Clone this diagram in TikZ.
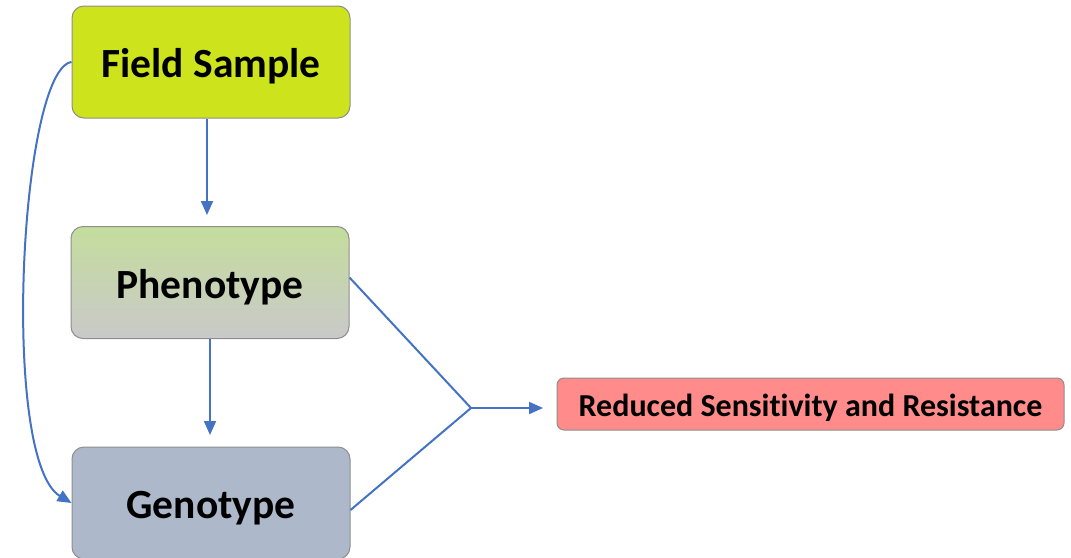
\documentclass[tikz,border=0pt]{standalone}
\usepackage{fontspec}
\setmainfont{Carlito}[Ligatures=NoCommon]
\usetikzlibrary{arrows.meta}
\definecolor{lineblue}{HTML}{4472C4}
\definecolor{fieldfill}{HTML}{CDE41C}
\definecolor{phenotop}{HTML}{C4DD9C}
\definecolor{phenobot}{HTML}{C9C9C9}
\definecolor{genofill}{HTML}{ADB9CA}
\definecolor{resfill}{HTML}{FF8B8B}
\definecolor{boxedge}{HTML}{8E8E8E}
\tikzset{
  stage/.style={draw=boxedge, line width=1pt, rounded corners=12pt,
    minimum width=278pt, minimum height=112pt, inner sep=0pt,
    text height=31pt, text depth=0pt,
    font=\fontsize{41.5}{48}\selectfont\bfseries},
  outcome/.style={draw=boxedge, line width=1pt, rounded corners=7pt, fill=resfill,
    minimum width=507pt, minimum height=52pt, inner sep=0pt,
    text height=24pt, text depth=0pt,
    font=\fontsize{32}{38}\selectfont\bfseries},
  link/.style={draw=lineblue, line width=2pt},
  flow/.style={link, -{Triangle[length=14pt, width=12pt]}}
}
\begin{document}
\begin{tikzpicture}[x=1pt, y=-1pt]
  \useasboundingbox (0,0) rectangle (1071,557);
  % the three stages
  \node[stage, fill=fieldfill] (field) at (211,62) {Field Sample};
  \node[stage, top color=phenotop, bottom color=phenobot, draw=boxedge] (pheno) at (210,282.5) {Phenotype};
  \node[stage, fill=genofill] (geno) at (211,503) {Genotype};
  % outcome
  \node[outcome] (res) at (810.5,404) {Reduced Sensitivity and Resistance};
  \coordinate (join) at (471,408);
  % connectors
  \draw[flow] (field.south -| 207,0) -- (207,215);
  \draw[flow] (pheno.south -| 210,0) -- (210,435);
  \draw[flow] (field.west) .. controls (20,70) and (0,460) .. (geno.west);
  \draw[link] ([yshift=5pt]pheno.east) -- (join);
  \draw[link] ([yshift=-7pt]geno.east) -- (join);
  \draw[flow] (join) -- (543,408);
\end{tikzpicture}
\end{document}
